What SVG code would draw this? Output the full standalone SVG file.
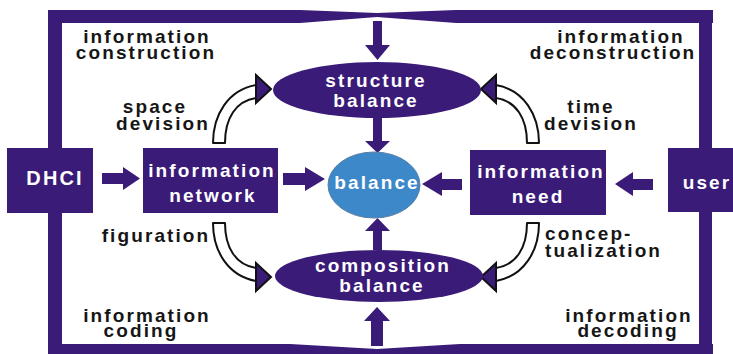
<svg xmlns="http://www.w3.org/2000/svg" width="733" height="354" viewBox="0 0 733 354">
  <style>
    .box { fill: #3a1b78; }
    .ell { fill: #3a1b78; }
    .core { fill: #3d88c8; stroke: #5a7fa6; stroke-width: 1; }
    .wt { fill: #ffffff; font-family: "Liberation Sans", Arial, sans-serif; font-weight: bold; font-size: 19px; letter-spacing: 2.1px; text-anchor: middle; }
    .bk { fill: #161616; font-family: "Liberation Sans", Arial, sans-serif; font-weight: bold; font-size: 19px; letter-spacing: 2.1px; text-anchor: middle; }
    .bar { fill: #3a1b78; }
    .blk { fill: #3a1b78; }
    .shaft { fill: #ffffff; stroke: #111111; stroke-width: 2; stroke-linejoin: round; }
    .head { fill: #3a1b78; stroke: #111111; stroke-width: 2; stroke-linejoin: miter; }
  </style>
  <defs>
    <!-- hollow bent arrow rising from a box to the left tip of an ellipse -->
    <g id="bend">
      <path class="shaft" d="M213,143 C213,115 228,90 256,85 L256,98 C236,101 225,118 225,143 Z"/>
      <polygon class="head" points="256,75 271,89 256,103"/>
    </g>
  </defs>

  <rect width="733" height="354" fill="#ffffff"/>

  <g id="connectors">
    <!-- outer frame: DHCI and user joined over the top and under the bottom -->
    <polygon class="bar" points="48,10 300,10 377,13 456,10 713,10 713,23 456,23 377,17 300,23 48,23"/>
    <polygon class="bar" points="48,344 290,344 377,349 460,344 713,344 713,356 48,356"/>
    <rect class="bar" x="48" y="10" width="14" height="138"/>
    <rect class="bar" x="48" y="213" width="14" height="135"/>
    <rect class="bar" x="699" y="10" width="13" height="138"/>
    <rect class="bar" x="699" y="212" width="13" height="136"/>

    <!-- vertical block arrows on the centre axis -->
    <polygon class="blk" points="373,21 382,21 382,45 390,45 377.5,60 365,45 373,45"/>
    <polygon class="blk" points="373,118 382,118 382,141 390,141 377.5,153 365,141 373,141"/>
    <polygon class="blk" points="373,250 382,250 382,231 390,231 377.5,218 365,231 373,231"/>
    <polygon class="blk" points="371,346 383,346 383,321 390,321 377,307 364,321 371,321"/>

    <!-- horizontal block arrows -->
    <polygon class="blk" points="102,173 123,173 123,167 140,178.5 123,190 123,184 102,184"/>
    <polygon class="blk" points="283,173 305,173 305,167 325,179 305,191 305,185 283,185"/>
    <polygon class="blk" points="462,179 442,179 442,172 422,184 442,196 442,190 462,190"/>
    <polygon class="blk" points="653,179 633,179 633,172 615,184 633,196 633,190 653,190"/>

    <!-- bent hollow arrows -->
    <use href="#bend"/>
    <use href="#bend" transform="translate(752,0) scale(-1,1)"/>
    <use href="#bend" transform="translate(0,366) scale(1,-1)"/>
    <use href="#bend" transform="translate(752,366) scale(-1,-1)"/>

    <!-- connector labels -->
    <text class="bk" x="147" y="43">information</text>
    <text class="bk" x="146" y="59">construction</text>
    <text class="bk" x="621" y="43">information</text>
    <text class="bk" x="613" y="59">deconstruction</text>
    <text class="bk" x="155" y="113">space</text>
    <text class="bk" x="163" y="130">devision</text>
    <text class="bk" x="591" y="113">time</text>
    <text class="bk" x="591" y="130">devision</text>
    <text class="bk" x="156" y="242">figuration</text>
    <text class="bk" x="545" y="240" style="text-anchor:start">concep-</text>
    <text class="bk" x="545" y="257" style="text-anchor:start">tualization</text>
    <text class="bk" x="147" y="322">information</text>
    <text class="bk" x="141" y="337">coding</text>
    <text class="bk" x="629" y="322">information</text>
    <text class="bk" x="628" y="337">decoding</text>
  </g>

  <g id="dhci">
    <rect class="box" x="7" y="148" width="86" height="65"/>
    <text class="wt" x="55" y="185" style="font-size:20px">DHCI</text>
  </g>

  <g id="information-network">
    <rect class="box" x="143" y="148" width="135" height="65"/>
    <text class="wt" x="212" y="177">information</text>
    <text class="wt" x="213" y="202">network</text>
  </g>

  <g id="information-need">
    <rect class="box" x="470" y="150" width="136" height="65"/>
    <text class="wt" x="541" y="178">information</text>
    <text class="wt" x="538" y="203">need</text>
  </g>

  <g id="user">
    <rect class="box" x="668" y="148" width="70" height="64"/>
    <text class="wt" x="707" y="189">user</text>
  </g>

  <g id="structure-balance">
    <ellipse class="ell" cx="377" cy="90" rx="104" ry="28"/>
    <text class="wt" x="376" y="87">structure</text>
    <text class="wt" x="376" y="107">balance</text>
  </g>

  <g id="balance">
    <ellipse class="core" cx="374" cy="185" rx="46" ry="33"/>
    <text class="wt" x="377" y="189">balance</text>
  </g>

  <g id="composition-balance">
    <ellipse class="ell" cx="379" cy="276" rx="104" ry="26"/>
    <text class="wt" x="383" y="272">composition</text>
    <text class="wt" x="382" y="292">balance</text>
  </g>
</svg>
